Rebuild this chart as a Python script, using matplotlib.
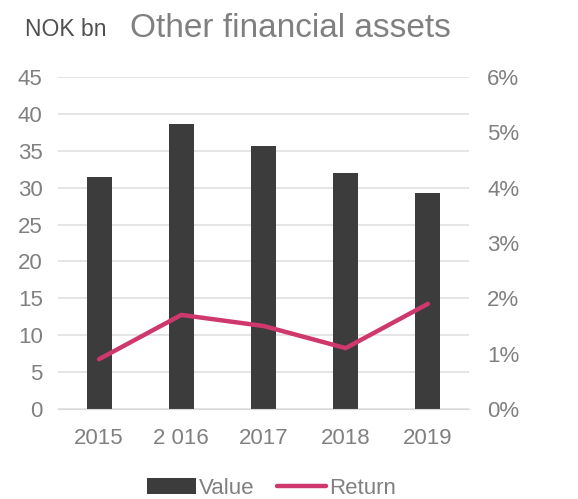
import numpy as np
import matplotlib
matplotlib.use('Agg')
import matplotlib.pyplot as plt
from matplotlib.ticker import FuncFormatter

years = ['2015', '2 016', '2017', '2018', '2019']
value_bn = [31.5, 38.6, 35.7, 32.0, 29.3]
return_pct = [0.90, 1.70, 1.50, 1.10, 1.90]

BAR_COLOR = '#3c3c3c'
LINE_COLOR = '#cf386d'
TEXT_COLOR = '#808080'
GRID_COLOR = '#e0e0e0'

plt.rcParams['font.family'] = ['Liberation Sans', 'DejaVu Sans']

fig = plt.figure(figsize=(5.78, 4.99), dpi=100)
ax = fig.add_axes([0.1003, 0.1804, 0.7111, 0.6653])
ax2 = ax.twinx()

x = np.arange(len(years))
bars = ax.bar(x, value_bn, width=0.305, color=BAR_COLOR, zorder=2, label='Value')
line, = ax2.plot(x, return_pct, color=LINE_COLOR, linewidth=3.2,
                 solid_capstyle='round', zorder=3, label='Return')

ax.set_xlim(-0.5, len(years) - 0.5)
ax.set_ylim(0, 45)
ax.set_yticks(np.arange(0, 46, 5))
ax2.set_ylim(0, 6)
ax2.set_yticks(np.arange(0, 7, 1))
ax2.yaxis.set_major_formatter(FuncFormatter(lambda v, _: f'{v:.0f}%'))

ax.set_xticks(x)
ax.set_xticklabels(years)
ax.grid(axis='y', color=GRID_COLOR, linewidth=1.2, zorder=0)
ax.set_axisbelow(True)

for a in (ax, ax2):
    for s in a.spines.values():
        s.set_visible(False)
    a.tick_params(length=0, labelsize=16, colors=TEXT_COLOR)
ax.tick_params(axis='y', pad=11)
ax.tick_params(axis='x', pad=14)
ax2.tick_params(axis='y', pad=13)
ax.spines['bottom'].set_visible(True)
ax.spines['bottom'].set_color('#d9d9d9')

ax.set_zorder(ax2.get_zorder() - 1)
ax.patch.set_visible(False)

fig.text(0.043, 0.927, 'NOK bn', fontsize=16.5, color='#505050', ha='left', va='baseline')
fig.text(0.225, 0.925, 'Other financial assets', fontsize=24, color=TEXT_COLOR,
         ha='left', va='baseline')

fig.legend([bars, line], ['Value', 'Return'], loc='center',
           bbox_to_anchor=(0.47, 0.022), ncol=2, frameon=False, fontsize=16,
           labelcolor=TEXT_COLOR, handlelength=2.2, handletextpad=0.15,
           columnspacing=1.0)

fig.savefig('out.png', dpi=100)
